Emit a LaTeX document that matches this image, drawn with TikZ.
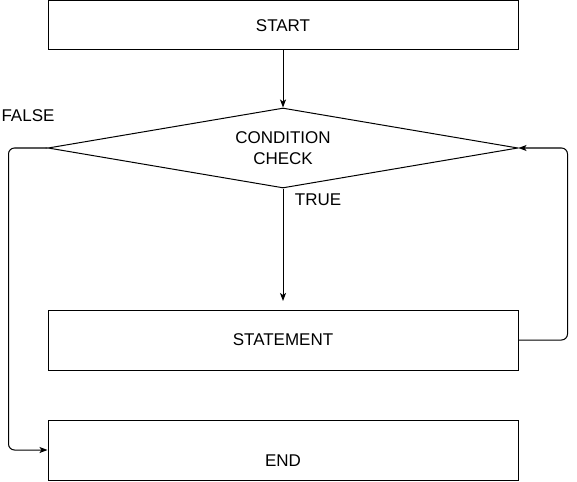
\documentclass[tikz,border=0pt]{standalone}
\usepackage{fontspec}
\setmainfont{Liberation Sans}
\usetikzlibrary{arrows.meta,positioning,shapes.geometric}
\tikzset{block/.style={draw,minimum width=470pt,minimum height=60pt,inner sep=0pt,align=center},cond/.style={draw,diamond,aspect=5.875,minimum width=470pt,minimum height=80pt,inner sep=0pt,align=center},edge/.style={-{Stealth[length=8pt,width=6pt,inset=2pt]},line width=1pt,rounded corners=6pt}}
\begin{document}
\begin{tikzpicture}[x=1pt,y=-1pt,font=\fontsize{17}{21.5}\selectfont,line width=1pt]
\useasboundingbox (0,0) rectangle (577,481);
\node[block,minimum height=49pt] (start) at (283,25.5) {START};
\node[cond] (check) at (283,148) {CONDITION\\CHECK};
\node[block] (stmt) at (283,340) {STATEMENT};
\node[block] (end) at (283,450) {\raisebox{-16pt}[0pt][0pt]{END}};
\coordinate (stmtin) at (283,301);
\draw[edge](start)--(check);
\draw[edge](check.south)--(stmtin);
\draw[edge](check.west)--++(-39,0)|-(end.west);
\draw[edge](stmt.east)--++(49,0)|-(check.east);
\node (false) at (28,116) {FALSE};\node (true) at (318,200) {TRUE};
\end{tikzpicture}
\end{document}
